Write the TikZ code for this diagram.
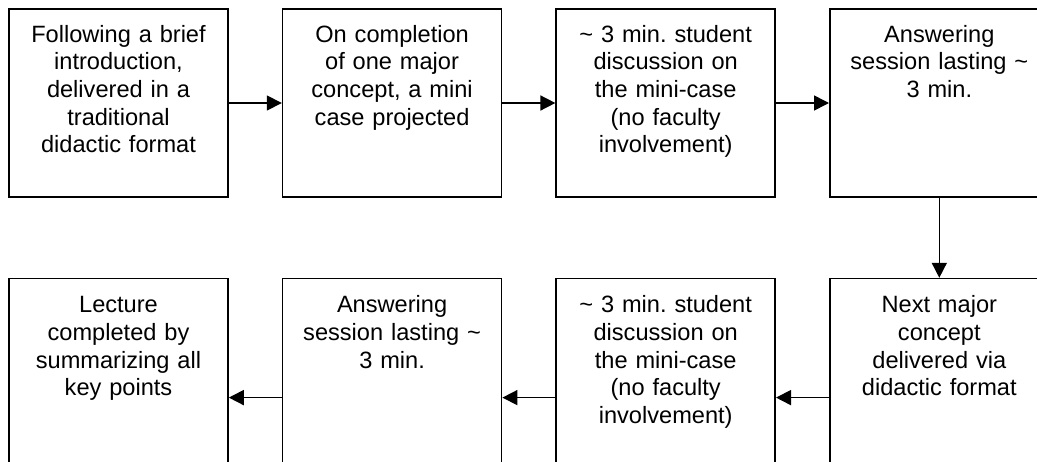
\documentclass[tikz,border=0pt]{standalone}
\usepackage{fontspec}
\setmainfont{Liberation Sans}
\frenchspacing
\usetikzlibrary{positioning,arrows.meta}

\definecolor{linecolor}{RGB}{0,0,0}

\tikzset{
    stagebox/.style={draw=linecolor, line width=1.6pt, inner sep=0pt,
        text width=219pt, align=center,
        font=\fontsize{23.6}{27.7}\selectfont,
        text height=33pt, text depth=155pt},
    flow/.style={draw=linecolor, line width=1.6pt,
        -{Triangle[length=15pt,width=15pt]}}
}

\begin{document}
\begin{tikzpicture}[x=1pt,y=1pt]
    % Page area, the right and lower boxes run past it
    \useasboundingbox (0,0) rectangle (1037,-461);
    \fill[white] (0,0) rectangle (1037,-461);
    \clip (0,0) rectangle (1037,-461);

    % First row of steps
    \node[stagebox] (t1) at (118.5,-103)
        {Following a brief\\ introduction,\\ delivered in a\\ traditional\\ didactic format};
    \node[stagebox, right=53pt of t1] (t2)
        {On completion\\ of one major\\ concept, a mini\\ case projected};
    \node[stagebox, right=53pt of t2] (t3)
        {\textasciitilde{} 3 min. student\\ discussion on\\ the mini-case\\ (no faculty\\ involvement)};
    \node[stagebox, right=53pt of t3] (t4)
        {Answering\\ session lasting \textasciitilde\\ 3 min.};

    % Second row, read from right to left
    \node[stagebox, text height=34pt, text depth=204pt, below=80pt of t4] (b4)
        {Next major\\ concept\\ delivered via\\ didactic format};
    \node[stagebox, text height=34pt, text depth=204pt, left=53pt of b4] (b3)
        {\textasciitilde{} 3 min. student\\ discussion on\\ the mini-case\\ (no faculty\\ involvement)};
    \node[stagebox, text height=34pt, text depth=204pt, left=53pt of b3] (b2)
        {Answering\\ session lasting \textasciitilde\\ 3 min.};
    \node[stagebox, text height=34pt, text depth=204pt, left=53pt of b2] (b1)
        {Lecture\\ completed by\\ summarizing all\\ key points};

    % Arrows between the steps
    \draw[flow] (t1) -- (t2);
    \draw[flow] (t2) -- (t3);
    \draw[flow] (t3) -- (t4);
    \draw[flow] (t4) -- (b4);
    \draw[flow] (b4) -- (b3);
    \draw[flow] (b3) -- (b2);
    \draw[flow] (b2) -- (b1);
\end{tikzpicture}
\end{document}
